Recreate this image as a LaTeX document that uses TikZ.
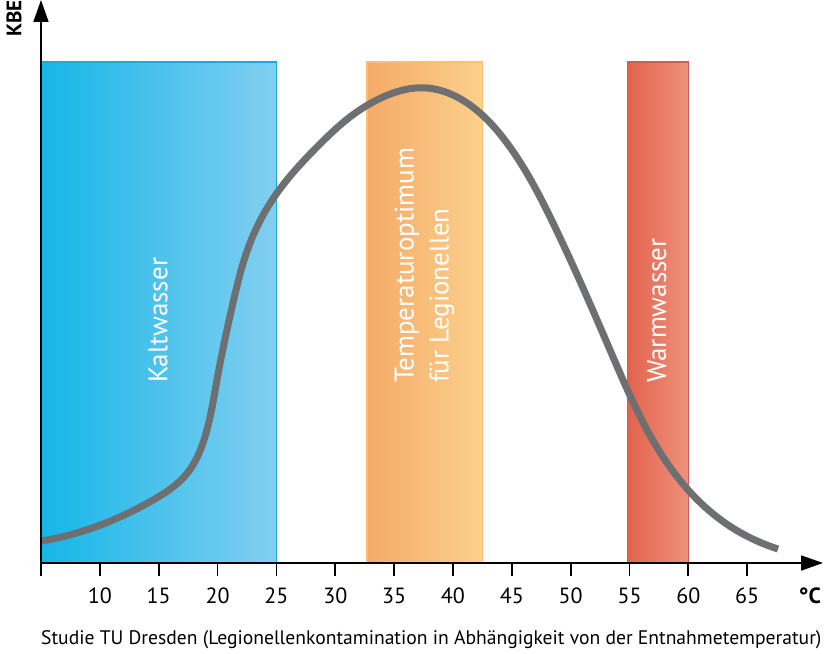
\documentclass[tikz,border=0pt]{standalone}
\usepackage{fontspec}
\setmainfont{PT Sans}
\usetikzlibrary{arrows.meta,hobby}
\definecolor{kaltL}{RGB}{22,182,232}
\definecolor{kaltR}{RGB}{130,207,240}
\definecolor{kaltRand}{RGB}{26,169,225}
\definecolor{optL}{RGB}{244,171,104}
\definecolor{optR}{RGB}{252,208,140}
\definecolor{optRand}{RGB}{253,192,106}
\definecolor{warmL}{RGB}{226,99,77}
\definecolor{warmR}{RGB}{239,145,124}
\definecolor{warmRand}{RGB}{212,90,90}
\definecolor{kurvegrau}{RGB}{110,111,113}
\tikzset{
  achse/.style={line width=1.8pt, -{Triangle[length=22pt,width=15pt]}},
  strich/.style={line width=1.8pt},
  band/.style={line width=1.2pt},
  bandtext/.style={rotate=90, anchor=west, inner sep=0pt, text=white, align=left,
    font=\fontsize{27}{35}\selectfont},
  skalatext/.style={font=\fontsize{22}{26}\selectfont},
}
\begin{document}
\begin{tikzpicture}[x=11.77pt, y=1pt]
  \useasboundingbox (1.517,-90) rectangle (71.61,563);
  % Temperaturbereiche
  \draw [band, draw=kaltRand, left color=kaltL, right color=kaltR] (5,0) rectangle (25,501);
  \draw [band, draw=optRand, left color=optL, right color=optR] (32.7,0) rectangle (42.5,501);
  \draw [band, draw=warmRand, left color=warmL, right color=warmR] (54.8,0) rectangle (60,501);
  % KBE-Kurve
  \draw [line width=7pt, kurvegrau, use Hobby shortcut]
    (5.08,22) .. (11.12,43) .. (14.52,63) .. (17.3,88) .. (18.9,125)
    .. (19.95,183) .. (21.31,260) .. (22.76,320) .. (25.05,370) .. (28.45,416)
    .. (31.25,446) .. (34.06,466) .. (37.80,475) .. (40.34,466) .. (42.30,450)
    .. (44.59,420) .. (48.50,340) .. (53.60,206) .. (57.85,106) .. (62.43,46)
    .. (67.62,14);
  \node [bandtext] (kalt) at (14.94,180) {Kaltwasser};
  \node [bandtext] (optimum) at (37.58,180) {Temperaturoptimum\\für Legionellen};
  \node [bandtext] (warm) at (57.33,180) {Warmwasser};
  % Achsen
  \coordinate (O) at (5,0);
  \coordinate (xende) at (71.44,0);
  \coordinate (yende) at (5,563);
  \draw [achse] (O) -- (xende);
  \draw [achse] (O) -- (yende);
  \foreach \t in {5,10,...,65}
    \draw [strich] (\t,0) -- (\t,-13);
  \foreach \t in {10,15,...,65}
    \node [skalatext] (t\t) at (\t,-33) {\t};
  \node [skalatext, font=\fontsize{22}{26}\selectfont\bfseries] (grad) at (70.33,-33) {°C};
  \node [rotate=90, anchor=east, inner sep=0pt, font=\fontsize{21}{25}\selectfont\bfseries] (kbe) at (2.71,563) {KBE};
  \node [anchor=west, inner sep=0pt, font=\fontsize{19.6}{23}\selectfont] (quelle) at (5,-77)
    {Studie TU Dresden (Legionellenkontamination in Abhängigkeit von der Entnahmetemperatur)};
\end{tikzpicture}
\end{document}
